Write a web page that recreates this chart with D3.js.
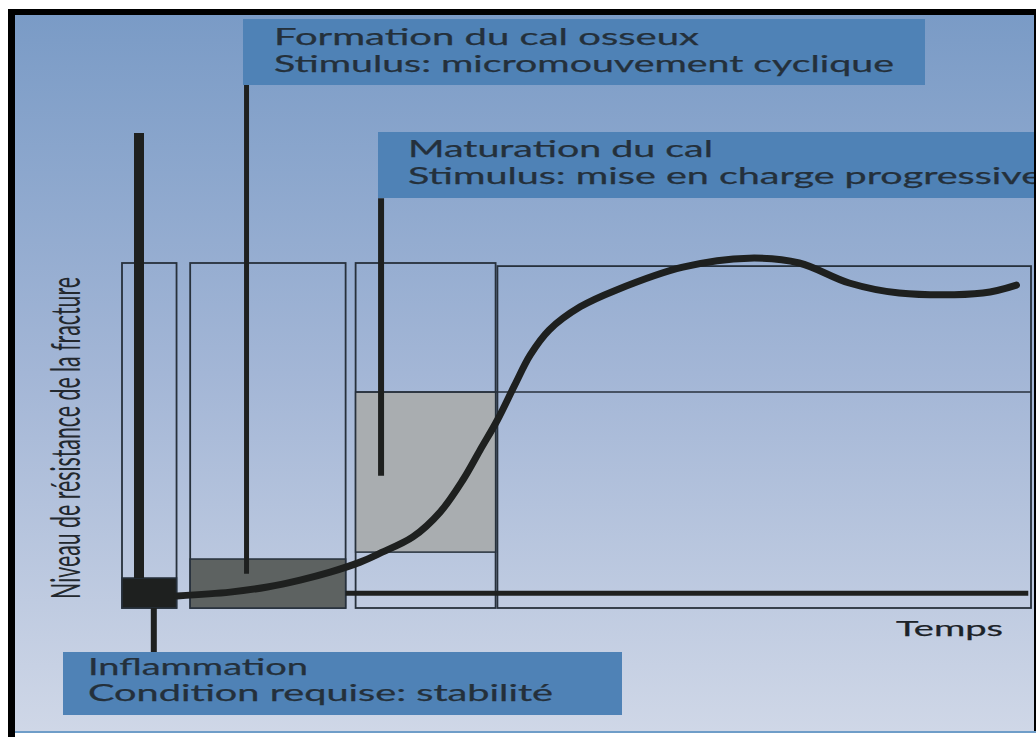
<!DOCTYPE html>
<html>
<head>
<meta charset="utf-8">
<script src="https://cdn.jsdelivr.net/npm/d3@7"></script>
<style>
  body { margin: 0; background: #fff; }
  svg { display: block; }
</style>
</head>
<body>
<div id="chart"></div>
<script>
// Phases de consolidation osseuse
const phaseNames = ["Inflammation", "Formation du cal osseux", "Maturation du cal", "Remodelage"];
const phaseStart = [0, 7.5, 25.7, 41.3];
const phaseEnd = [6.0, 24.6, 41.1, 100];
const phaseTop = [100, 100, 100, 99.1];
const stimulusLow = [0, 0, 16.2, 62.6];
const stimulusHigh = [8.7, 14.2, 62.6, 62.6];

// courbe de résistance (temps, niveau)
const curveTime = [6.05, 11.9, 16.0, 19.6, 22.9, 26.2, 28.4, 32.0, 35.0, 37.5, 39.4, 41.3, 43.2, 44.9, 47.0, 50.4, 54.4, 61.7, 69.0, 74.5, 80.0, 85.5, 94.7, 98.4];
const curveLevel = [3.5, 4.6, 6.1, 8.1, 10.4, 13.3, 15.9, 20.6, 27.8, 37.1, 45.8, 54.5, 64.6, 73.3, 80.6, 87.3, 92.2, 98.8, 101.4, 100.0, 94.2, 91.3, 91.3, 93.6];

const baselineLevel = 4.3;

// légendes
const labelLines = [
    ["Formation du cal osseux", "Stimulus: micromouvement cyclique"],
    ["Maturation du cal", "Stimulus: mise en charge progressive"],
    ["Inflammation", "Condition requise: stabilité"]
];
const yTitle = "Niveau de résistance de la fracture";
const xTitle = "Temps";

{
    const W = 1036, H = 737;
    const svg = d3.select("#chart").append("svg")
        .attr("width", W).attr("height", H);

    const defs = svg.append("defs");
    const grad = defs.append("linearGradient")
        .attr("id", "bg").attr("x1", 0).attr("y1", 0).attr("x2", 0).attr("y2", 1);
    grad.append("stop").attr("offset", "0%").attr("stop-color", "#7a9bc6");
    grad.append("stop").attr("offset", "50%").attr("stop-color", "#a3b6d6");
    grad.append("stop").attr("offset", "100%").attr("stop-color", "#cfd7e7");

    defs.append("clipPath").attr("id", "inner")
        .append("rect").attr("x", 15).attr("y", 15).attr("width", 1019).attr("height", 716);

    // cadre
    svg.append("rect").attr("x", 8).attr("y", 9).attr("width", W - 8).attr("height", H - 9).attr("fill", "#000");
    svg.append("rect").attr("x", 15).attr("y", 15).attr("width", 1019).attr("height", 716).attr("fill", "url(#bg)");
    svg.append("rect").attr("x", 15).attr("y", 731).attr("width", W - 15).attr("height", 2).attr("fill", "#6f9dc8");
    svg.append("rect").attr("x", 15).attr("y", 733).attr("width", W - 15).attr("height", 4).attr("fill", "#fff");

    const g = svg.append("g").attr("clip-path", "url(#inner)");

    const x = d3.scaleLinear().domain([0, 100]).range([122, 1031]);
    const y = d3.scaleLinear().domain([0, 100]).range([608, 263]);

    const dark = "#1e201f";
    const edge = "#27313c";

    // cadres des phases
    g.selectAll(".phase")
        .data(phaseNames)
        .join("rect")
        .attr("class", "phase")
        .attr("x", (d, i) => x(phaseStart[i]))
        .attr("y", (d, i) => y(phaseTop[i]))
        .attr("width", (d, i) => x(phaseEnd[i]) - x(phaseStart[i]))
        .attr("height", (d, i) => y(0) - y(phaseTop[i]))
        .attr("fill", "none")
        .attr("stroke", edge)
        .attr("stroke-width", 1.8);

    // zones de stimulus
    const fills = ["#1e201f", "#5d6261", "#a9adb0"];
    g.selectAll(".stim")
        .data(phaseNames.slice(0, 3))
        .join("rect")
        .attr("class", "stim")
        .attr("x", (d, i) => x(phaseStart[i]))
        .attr("y", (d, i) => y(stimulusHigh[i]))
        .attr("width", (d, i) => x(phaseEnd[i]) - x(phaseStart[i]))
        .attr("height", (d, i) => y(stimulusLow[i]) - y(stimulusHigh[i]))
        .attr("fill", (d, i) => fills[i])
        .attr("stroke", edge)
        .attr("stroke-width", 1.5);

    // ligne de niveau de la phase de remodelage
    g.append("line")
        .attr("x1", x(phaseStart[2])).attr("x2", x(phaseEnd[3]))
        .attr("y1", y(stimulusHigh[3])).attr("y2", y(stimulusHigh[3]))
        .attr("stroke", edge).attr("stroke-width", 1.5);

    // ligne de base épaisse
    g.append("line")
        .attr("x1", x(phaseEnd[1])).attr("x2", x(99.7))
        .attr("y1", y(baselineLevel)).attr("y2", y(baselineLevel))
        .attr("stroke", dark).attr("stroke-width", 5);

    // courbe de résistance
    const pts = curveTime.map((t, i) => [t, curveLevel[i]]);
    const line = d3.line()
        .x(d => x(d[0]))
        .y(d => y(d[1]))
        .curve(d3.curveCatmullRom.alpha(0.5));
    g.append("path")
        .attr("d", line(pts))
        .attr("fill", "none")
        .attr("stroke", dark)
        .attr("stroke-width", 7)
        .attr("stroke-linecap", "round");

    // traits de rappel
    const leaders = [
        { t: 1.87, top: 137.7, bottom: stimulusHigh[0], w: 10 },
        { t: 13.7, top: 151.6, bottom: 9.9, w: 5 },
        { t: 28.5, top: 118.8, bottom: 38.3, w: 6 },
        { t: 3.5, top: 0, bottom: -12.8, w: 6 }
    ];
    g.selectAll(".leader")
        .data(leaders)
        .join("line")
        .attr("class", "leader")
        .attr("x1", d => x(d.t)).attr("x2", d => x(d.t))
        .attr("y1", d => y(d.top)).attr("y2", d => y(d.bottom))
        .attr("stroke", dark)
        .attr("stroke-width", d => d.w);

    // boîtes de légende
    const boxes = [
        { x0: 243, x1: 925, y0: 19, y1: 85, tx: 274, base: [45, 72], len: [425, 620] },
        { x0: 378, x1: 1040, y0: 132, y1: 198, tx: 408, base: [157, 184], len: [305, 634] },
        { x0: 63, x1: 622, y0: 652, y1: 715, tx: 88, base: [675, 701], len: [220, 465] }
    ];
    const txtColor = "#24303b";
    boxes.forEach((b, i) => {
        g.append("rect")
            .attr("x", b.x0).attr("y", b.y0)
            .attr("width", b.x1 - b.x0).attr("height", b.y1 - b.y0)
            .attr("fill", "#4f82b6");
        labelLines[i].forEach((txt, j) => {
            g.append("text")
                .attr("x", b.tx).attr("y", b.base[j])
                .attr("textLength", b.len[j])
                .attr("lengthAdjust", "spacingAndGlyphs")
                .style("font-family", "Lato, 'Open Sans', sans-serif")
                .style("font-size", "23px")
                .attr("fill", txtColor)
                .attr("stroke", txtColor)
                .attr("stroke-width", 0.25)
                .text(txt);
        });
    });

    // titre vertical: police condensée par mise à l'échelle
    const yLab = g.append("text")
        .attr("text-anchor", "middle")
        .style("font-family", "Lato, 'Open Sans', sans-serif")
        .style("font-size", "40px")
        .attr("fill", "#23282e")
        .text(yTitle);
    const natural = yLab.node().getComputedTextLength() || 600;
    yLab.attr("transform", `translate(80,438) rotate(-90) scale(${322 / natural},1)`);

    g.append("text")
        .attr("x", 896).attr("y", 636)
        .attr("textLength", 107)
        .attr("lengthAdjust", "spacingAndGlyphs")
        .style("font-family", "Lato, 'Open Sans', sans-serif")
        .style("font-size", "22px")
        .attr("fill", "#1c2228")
        .attr("stroke", "#1c2228")
        .attr("stroke-width", 0.25)
        .text(xTitle);
}
</script>
</body>
</html>
